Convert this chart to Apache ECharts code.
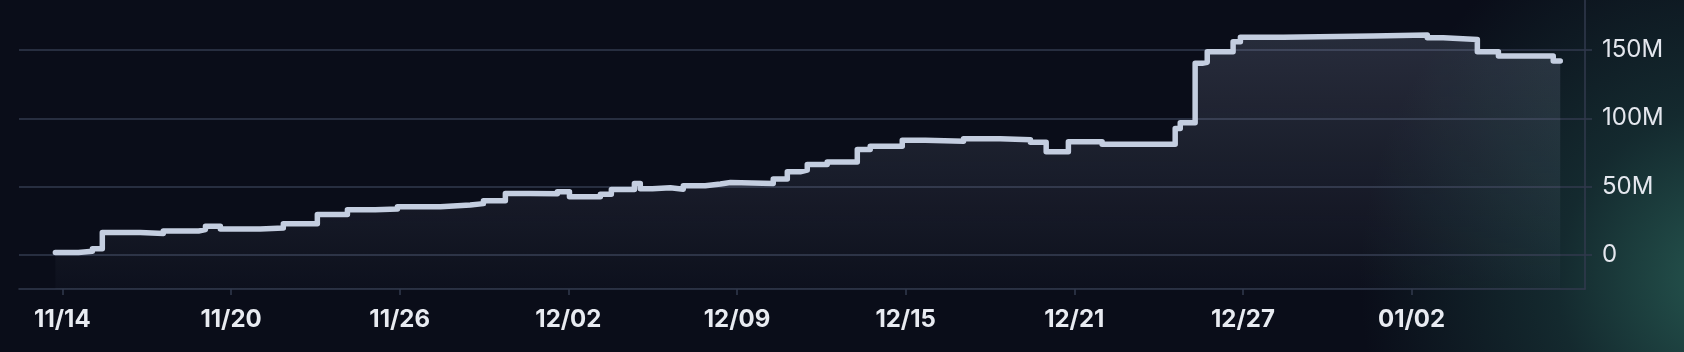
<!DOCTYPE html>
<html>
<head>
<meta charset="utf-8">
<script src="https://cdn.jsdelivr.net/npm/echarts@6/dist/echarts.min.js"></script>
<style>
  html, body { margin: 0; padding: 0; }
  body {
    width: 1684px; height: 352px; overflow: hidden;
    background:
      radial-gradient(ellipse 360px 380px at 1720px 280px, rgba(42,98,88,0.85) 0%, rgba(30,70,68,0.5) 45%, rgba(11,14,26,0) 100%),
      #0a0d19;
  }
  #chart { width: 1684px; height: 352px; }
</style>
</head>
<body>
<div id="chart"></div>
<script>
// etiquetas del eje x (cada 6 unidades)
const tickLabels = ['11/14', '11/20', '11/26', '12/02', '12/09', '12/15', '12/21', '12/27', '01/02'];
const tickPos = [0, 6, 12, 18, 24, 30, 36, 42, 48];
const yTicks = [0, 50, 100, 150];

// puntos de cambio del saldo (posicion en dias desde 11/14, valor en millones)
const dayOffsets = [
  -0.25, 0.57, 1.07, 1.42, 2.77, 3.59, 4.84, 5.09, 5.62, 7.04,
  7.86, 9.07, 10.14, 11.13, 11.92, 13.45, 14.51, 14.98, 15.76, 16.65,
  17.61, 18.04, 19.14, 19.53, 20.35, 20.56, 20.99, 21.63, 22.09, 22.87,
  23.41, 23.77, 25.29, 25.79, 26.25, 26.50, 27.21, 28.28, 28.74, 29.88,
  30.70, 32.06, 33.37, 34.44, 35.00, 35.79, 36.99, 39.59, 39.77, 40.30,
  40.55, 40.73, 41.65, 41.91, 43.44, 46.64, 48.56, 49.13, 50.34, 51.09,
  53.04, 53.29
];
const valuesM = [
  1.8, 2.7, 4.4, 16.4, 15.7, 17.4, 18.6, 21.0, 19.0, 19.7,
  22.7, 29.6, 33.0, 33.6, 35.2, 36.5, 37.5, 39.6, 45.0, 44.7,
  46.2, 42.5, 44.3, 47.9, 52.3, 48.4, 49.1, 48.1, 50.6, 51.9,
  53.0, 52.3, 55.5, 60.8, 62.0, 66.2, 67.9, 77.2, 79.6, 84.0,
  83.2, 85.0, 84.3, 82.4, 75.5, 82.8, 80.9, 92.6, 96.7, 140.2,
  141.0, 148.8, 156.0, 159.3, 160.2, 161.0, 159.0, 157.6, 148.8, 145.6,
  142.0, 142.0
];

const gridColor = '#323a4e';

const chart = echarts.init(document.getElementById('chart'), null, { renderer: 'canvas' });

const option = {
  backgroundColor: 'transparent',
  animation: false,
  grid: { left: 19, right: 99, top: 0, bottom: 63 },
  xAxis: {
    type: 'value',
    min: -1.544,
    max: 54.17,
    axisLine: { show: true, onZero: false, lineStyle: { color: gridColor, width: 1.5 } },
    axisTick: { show: true, length: 6, customValues: tickPos, lineStyle: { color: gridColor, width: 1.5 } },
    axisLabel: {
      customValues: tickPos,
      margin: 19,
      color: '#e8ebf1',
      fontFamily: 'Inter',
      fontWeight: 'bold',
      fontSize: 24,
      formatter: function(v) {
        const i = tickPos.indexOf(Math.round(v));
        return i >= 0 ? tickLabels[i] : '';
      }
    },
    splitLine: { show: false }
  },
  yAxis: {
    type: 'value',
    position: 'right',
    min: -25,
    max: 186.6,
    axisLine: { show: true, onZero: false, lineStyle: { color: gridColor, width: 1.5 } },
    axisTick: { show: true, length: 7, customValues: yTicks, lineStyle: { color: gridColor, width: 1.5 } },
    axisLabel: {
      customValues: yTicks,
      margin: 17,
      color: '#e4e7ee',
      fontFamily: 'Inter',
      fontSize: 24,
      formatter: function(v) {
        return v === 0 ? '0' : v + 'M';
      }
    },
    splitLine: { show: true, lineStyle: { color: gridColor, width: 1.5 } }
  },
  series: [
    {
      type: 'line',
      step: 'end',
      showSymbol: false,
      data: dayOffsets.map(function(d, i) { return [d, valuesM[i]]; }),
      lineStyle: { color: '#c4cee0', width: 5.5, cap: 'round', join: 'round' },
      areaStyle: {
        origin: 'start',
        color: new echarts.graphic.LinearGradient(0, 0, 0, 1, [
          { offset: 0, color: 'rgba(150,162,188,0.3)' },
          { offset: 1, color: 'rgba(150,162,188,0.04)' }
        ])
      }
    }
  ]
};

chart.setOption(option);
</script>
</body>
</html>
